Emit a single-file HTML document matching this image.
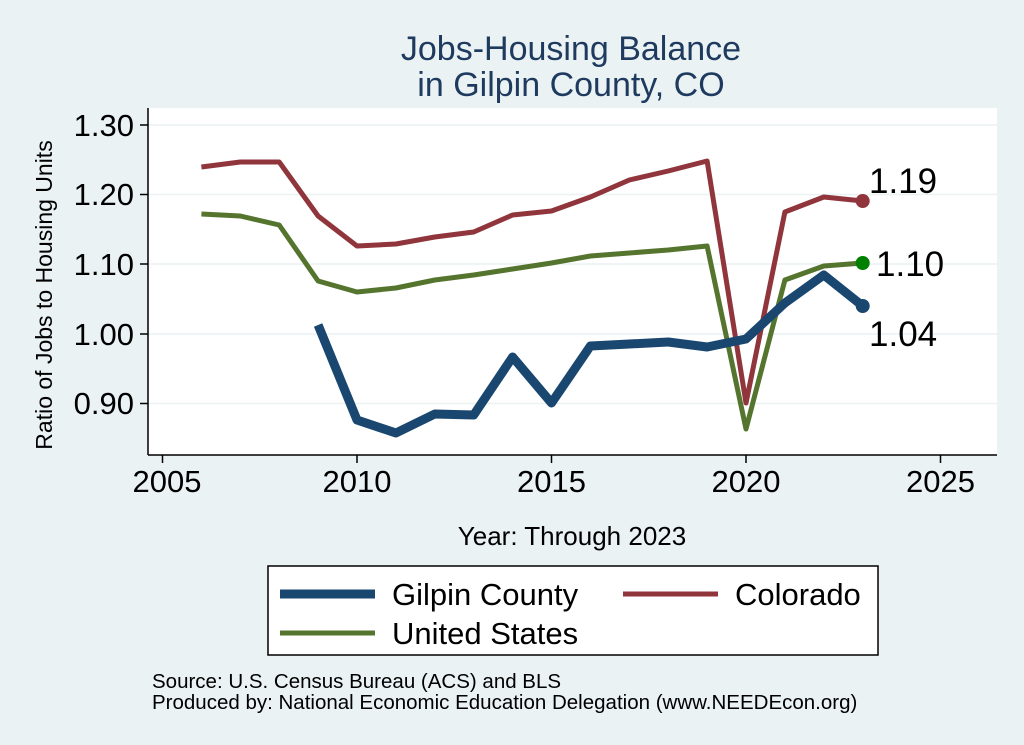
<!DOCTYPE html>
<html><head><meta charset="utf-8"><style>
html,body{margin:0;padding:0;background:#eaf2f3;}
svg{display:block;font-family:"Liberation Sans",Arial,sans-serif;}
</style></head><body>
<svg width="1024" height="745" viewBox="0 0 1024 745" xmlns="http://www.w3.org/2000/svg">
<rect width="1024" height="745" fill="#eaf2f3"/>
<text x="571" y="60" font-size="34" fill="#1e3a5f" text-anchor="middle">Jobs-Housing Balance</text>
<text x="571" y="96" font-size="34" fill="#1e3a5f" text-anchor="middle">in Gilpin County, CO</text>
<rect x="148" y="108" width="849" height="347" fill="#fff"/>
<g stroke="#eaf2f3" stroke-width="1.5">
<line x1="148" x2="997" y1="125" y2="125"/><line x1="148" x2="997" y1="194.5" y2="194.5"/>
<line x1="148" x2="997" y1="264" y2="264"/><line x1="148" x2="997" y1="334" y2="334"/>
<line x1="148" x2="997" y1="403.5" y2="403.5"/>
</g>
<g stroke="#000" stroke-width="1.5">
<line x1="148" x2="148" y1="108" y2="455"/><line x1="148" x2="997" y1="455" y2="455"/>
<line x1="140" x2="148" y1="125" y2="125"/><line x1="140" x2="148" y1="194.5" y2="194.5"/>
<line x1="140" x2="148" y1="264" y2="264"/><line x1="140" x2="148" y1="334" y2="334"/>
<line x1="140" x2="148" y1="403.5" y2="403.5"/>
<line x1="162.5" x2="162.5" y1="455" y2="463"/><line x1="357" x2="357" y1="455" y2="463"/>
<line x1="551.5" x2="551.5" y1="455" y2="463"/><line x1="746" x2="746" y1="455" y2="463"/>
<line x1="940.5" x2="940.5" y1="455" y2="463"/>
</g>
<g font-size="31" text-anchor="end" fill="#000">
<text x="134" y="136">1.30</text><text x="134" y="205">1.20</text><text x="134" y="275">1.10</text>
<text x="134" y="345">1.00</text><text x="134" y="414">0.90</text>
</g>
<g font-size="31" text-anchor="middle" fill="#000">
<text x="167" y="492">2005</text><text x="357" y="492">2010</text><text x="551.5" y="492">2015</text>
<text x="746" y="492">2020</text><text x="940.5" y="492">2025</text>
</g>
<text x="572" y="545" font-size="26" text-anchor="middle">Year: Through 2023</text>
<text transform="translate(52,295) rotate(-90)" font-size="23" text-anchor="middle">Ratio of Jobs to Housing Units</text>
<g fill="none" stroke-linejoin="round">
<polyline stroke="#90353b" stroke-width="5" points="201.4,167 240.3,162 279.2,162 318.1,216 357,246 395.9,244 434.8,237 473.7,232 512.6,215 551.5,211 590.4,197 629.3,180 668.2,171 707.1,161 746,403 784.9,212 823.8,197 862.7,201"/>
<polyline stroke="#55752f" stroke-width="5" points="201.4,214 240.3,216 279.2,225 318.1,281 357,292 395.9,288 434.8,280 473.7,275 512.6,269 551.5,263 590.4,256 629.3,253 668.2,250 707.1,246 746,429 784.9,280 823.8,266 862.7,263"/>
<polyline stroke="#1a476f" stroke-width="9" points="318.1,325 357,420 395.9,433 434.8,414 473.7,415 512.6,357 551.5,403 590.4,346 629.3,344 668.2,342 707.1,347 746,339 784.9,303 823.8,275 862.7,306"/>
</g>
<circle cx="862.7" cy="201" r="7" fill="#90353b"/>
<circle cx="862.7" cy="263" r="7" fill="#008000"/>
<circle cx="862.7" cy="306" r="7" fill="#1a476f"/>
<g font-size="35" fill="#000">
<text x="869" y="193">1.19</text><text x="876" y="276">1.10</text><text x="869" y="346">1.04</text>
</g>
<rect x="268" y="566" width="610" height="89" fill="#fff" stroke="#000" stroke-width="1.5"/>
<line x1="280" x2="375" y1="594" y2="594" stroke="#1a476f" stroke-width="9"/>
<text x="392" y="605" font-size="31">Gilpin County</text>
<line x1="623" x2="718" y1="594" y2="594" stroke="#90353b" stroke-width="5"/>
<text x="735" y="605" font-size="31">Colorado</text>
<line x1="280" x2="375" y1="633" y2="633" stroke="#55752f" stroke-width="5"/>
<text x="392" y="644" font-size="31">United States</text>
<text x="152" y="688" font-size="20.5">Source: U.S. Census Bureau (ACS) and BLS</text>
<text x="152" y="709" font-size="20.5">Produced by: National Economic Education Delegation (www.NEEDEcon.org)</text>
</svg>
</body></html>
